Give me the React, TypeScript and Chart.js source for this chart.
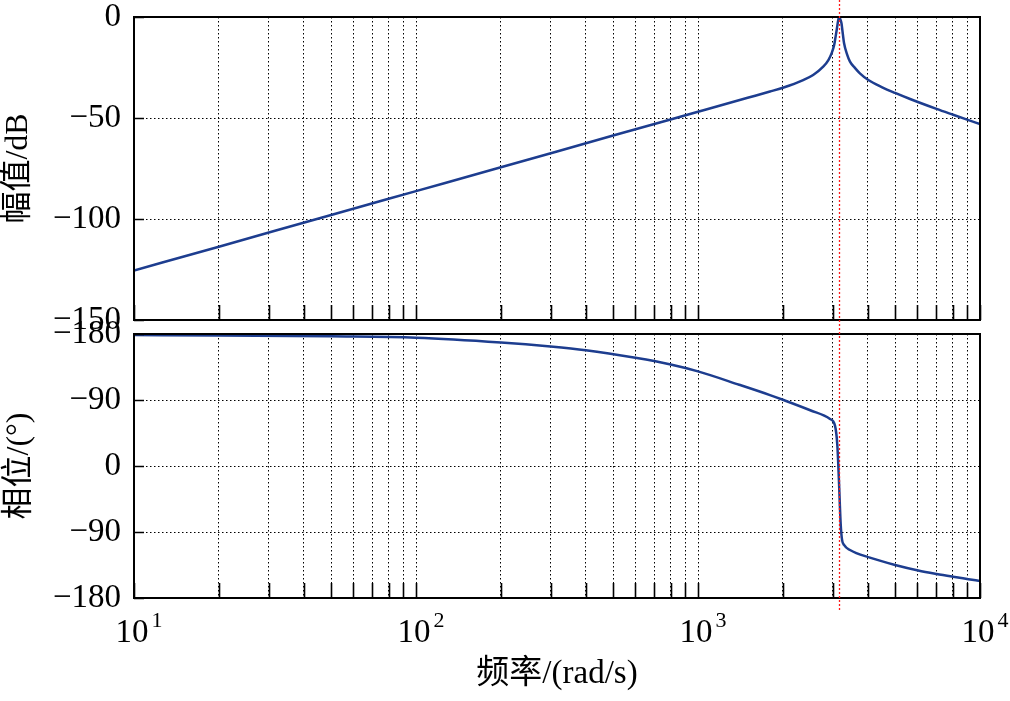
import React, { useEffect, useRef } from 'react';
import { Chart, registerables } from 'chart.js';

Chart.register(...registerables);

// ---- data ----
const magFreq = [10, 20, 50, 100, 200, 500, 1000, 1500, 1800, 2000, 2360, 2560, 2780, 2900, 2976, 3040, 3076, 3110, 3143, 3165, 3190, 3227, 3260, 3296, 3380, 3459, 3600, 3750, 4018, 4500, 5000, 5650, 7010, 8030, 9000, 10000];
const magDb = [-125.5, -113.7, -98.0, -86.2, -74.4, -58.7, -46.9, -40.0, -36.9, -35.0, -31.2, -28.7, -24.6, -21.3, -18.0, -13.9, -9.7, -5.6, -1.5, 0, -0.8, -3.1, -8.0, -13.0, -18.6, -22.1, -25.2, -27.9, -31.2, -34.8, -37.6, -40.6, -45.5, -48.4, -50.8, -53.0];

const phaseFreq = [10, 20, 50, 100, 200, 300, 400, 600, 800, 1000, 1400, 1800, 2000, 2500, 2940, 3060, 3120, 3160, 3205, 3240, 3300, 3460, 4070, 5000, 6040, 7010, 8030, 9100, 10000];
const phaseDeg = [178.6, 178.1, 176.8, 175.0, 168.5, 163.0, 157.9, 147.5, 138.4, 129.0, 110.8, 96.7, 90.3, 76.0, 64.0, 55.0, 28.0, -19.0, -78.0, -100.0, -108.0, -114.5, -125.0, -135.0, -142.5, -147.2, -151.0, -154.3, -156.8];

const resonanceFreq = [3165];

const xGridValues = [10, 20, 30, 40, 50, 60, 70, 80, 90, 100, 200, 300, 400, 500, 600, 700, 800, 900, 1000, 2000, 3000, 4000, 5000, 6000, 7000, 8000, 9000, 10000];
const xDecades = [10, 100, 1000, 10000];
const xExponents = ['1', '2', '3', '4'];

const magTicks = [0, -50, -100, -150];
const magTickLabels = ['0', '\u221250', '\u2212100', '\u2212150'];
const phaseTicks = [180, 90, 0, -90, -180];
const phaseTickLabels = ['\u2212180', '\u221290', '0', '\u221290', '\u2212180'];

const magTitle = '幅值/dB';
const phaseTitle = '相位/(°)';
const freqTitle = '频率/(rad/s)';

// ---- styles ----
const FONT = "'Liberation Serif', 'Noto Sans CJK SC', serif";
const LINE_COLOR = '#1d3d8f';
const RED = '#ff1a1a';
const GRID_DASH = [1.5, 2.5];

function makePlugin(yTicks: number[], redTop: (a: any) => number, redBottom: (a: any) => number, drawXLabels: boolean) {
  return {
    id: 'frameAndTicks',
    afterDraw(chart: any) {
      const { ctx, chartArea: a, scales } = chart;
      const xs = scales.x;
      const ys = scales.y;
      ctx.save();
      ctx.strokeStyle = '#000';
      ctx.lineWidth = 1.6;
      ctx.setLineDash([]);
      ctx.beginPath();
      for (const v of xGridValues) {
        const px = Math.round(xs.getPixelForValue(v)) + 0.5;
        ctx.moveTo(px, a.bottom);
        ctx.lineTo(px, a.bottom - 15);
      }
      for (const v of yTicks) {
        const py = Math.round(ys.getPixelForValue(v)) + 0.5;
        ctx.moveTo(a.left, py);
        ctx.lineTo(a.left + 10, py);
      }
      ctx.stroke();
      ctx.lineWidth = 2;
      ctx.strokeRect(a.left, a.top, a.right - a.left, a.bottom - a.top);

      // red dotted marker line at the resonance
      const rx = Math.round(xs.getPixelForValue(resonanceFreq[0])) + 0.5;
      ctx.strokeStyle = RED;
      ctx.lineWidth = 1.3;
      ctx.setLineDash([2, 2]);
      ctx.beginPath();
      ctx.moveTo(rx, redTop(a));
      ctx.lineTo(rx, redBottom(a));
      ctx.stroke();
      ctx.setLineDash([]);

      if (drawXLabels) {
        ctx.fillStyle = '#000';
        ctx.textBaseline = 'alphabetic';
        xDecades.forEach((v, i) => {
          const px = xs.getPixelForValue(v);
          ctx.font = `33px ${FONT}`;
          const w = ctx.measureText('10').width;
          const left = px - w / 2 - 2;
          ctx.textAlign = 'left';
          ctx.fillText('10', left, a.bottom + 44);
          ctx.font = `22px ${FONT}`;
          ctx.fillText(xExponents[i], left + w + 3, a.bottom + 29);
        });
      }
      ctx.restore();
    },
  };
}

function tickSetter(values: number[]) {
  return (scale: any) => {
    scale.ticks = values.map((v) => ({ value: v }));
  };
}

const MagChart: React.FC = () => {
  const ref = useRef<HTMLCanvasElement | null>(null);
  useEffect(() => {
    if (!ref.current) return;
    const chart = new Chart(ref.current, {
      type: 'line',
      data: {
        datasets: [
          {
            data: magFreq.map((f, i) => ({ x: f, y: magDb[i] })),
            borderColor: LINE_COLOR,
            borderWidth: 2.5,
            pointRadius: 0,
            cubicInterpolationMode: 'monotone',
            fill: false,
          },
        ],
      },
      options: {
        animation: false,
        responsive: false,
        maintainAspectRatio: false,
        devicePixelRatio: 1,
        layout: { padding: { left: 0, right: 30, top: 17, bottom: 25 } },
        plugins: { legend: { display: false }, tooltip: { enabled: false } },
        scales: {
          x: {
            type: 'logarithmic',
            min: 10,
            max: 10000,
            afterBuildTicks: tickSetter(xGridValues),
            ticks: { display: false },
            grid: { color: '#000', lineWidth: 1, drawTicks: false },
            border: { display: false, dash: GRID_DASH },
            afterFit: (s: any) => {
              s.height = 0;
              s.paddingLeft = 0;
              s.paddingRight = 0;
            },
          },
          y: {
            min: -150,
            max: 0,
            afterBuildTicks: tickSetter(magTicks),
            ticks: {
              color: '#000',
              padding: 13,
              font: { family: FONT, size: 33, lineHeight: 1 },
              callback: (v: any) => magTickLabels[magTicks.indexOf(Number(v))] ?? '',
            },
            grid: { color: '#000', lineWidth: 1, drawTicks: false },
            border: { display: false, dash: GRID_DASH },
            title: {
              display: true,
              text: magTitle,
              color: '#000',
              font: { family: FONT, size: 32, lineHeight: 1 },
              padding: { top: 3, bottom: 0 },
            },
            afterFit: (s: any) => {
              s.width = 134;
              s.paddingTop = 0;
              s.paddingBottom = 0;
            },
          },
        },
      },
      plugins: [makePlugin(magTicks, () => 0, (a: any) => a.bottom + 8, false)],
    } as any);
    return () => chart.destroy();
  }, []);
  return <canvas ref={ref} width={1010} height={345} style={{ position: 'absolute', left: 0, top: 0, width: 1010, height: 345 }} />;
};

const PhaseChart: React.FC = () => {
  const ref = useRef<HTMLCanvasElement | null>(null);
  useEffect(() => {
    if (!ref.current) return;
    const chart = new Chart(ref.current, {
      type: 'line',
      data: {
        datasets: [
          {
            data: phaseFreq.map((f, i) => ({ x: f, y: phaseDeg[i] })),
            borderColor: LINE_COLOR,
            borderWidth: 2.5,
            pointRadius: 0,
            cubicInterpolationMode: 'monotone',
            fill: false,
          },
        ],
      },
      options: {
        animation: false,
        responsive: false,
        maintainAspectRatio: false,
        devicePixelRatio: 1,
        layout: { padding: { left: 0, right: 30, top: 34, bottom: 0 } },
        plugins: { legend: { display: false }, tooltip: { enabled: false } },
        scales: {
          x: {
            type: 'logarithmic',
            min: 10,
            max: 10000,
            afterBuildTicks: tickSetter(xGridValues),
            ticks: { display: false },
            grid: { color: '#000', lineWidth: 1, drawTicks: false },
            border: { display: false, dash: GRID_DASH },
            title: {
              display: true,
              text: freqTitle,
              color: '#000',
              font: { family: FONT, size: 33, lineHeight: 1 },
              padding: { top: 0, bottom: 10 },
            },
            afterFit: (s: any) => {
              s.height = 103;
              s.paddingLeft = 0;
              s.paddingRight = 0;
            },
          },
          y: {
            min: -180,
            max: 180,
            afterBuildTicks: tickSetter(phaseTicks),
            ticks: {
              color: '#000',
              padding: 13,
              font: { family: FONT, size: 33, lineHeight: 1 },
              callback: (v: any) => phaseTickLabels[phaseTicks.indexOf(Number(v))] ?? '',
            },
            grid: { color: '#000', lineWidth: 1, drawTicks: false },
            border: { display: false, dash: GRID_DASH },
            title: {
              display: true,
              text: phaseTitle,
              color: '#000',
              font: { family: FONT, size: 32, lineHeight: 1 },
              padding: { top: 4, bottom: 0 },
            },
            afterFit: (s: any) => {
              s.width = 134;
              s.paddingTop = 0;
              s.paddingBottom = 0;
            },
          },
        },
      },
      plugins: [makePlugin(phaseTicks, (a: any) => a.top - 6, (a: any) => a.bottom + 12, true)],
    } as any);
    return () => chart.destroy();
  }, []);
  return <canvas ref={ref} width={1010} height={401} style={{ position: 'absolute', left: 0, top: 300, width: 1010, height: 401 }} />;
};

export default function App() {
  return (
    <div style={{ position: 'fixed', left: 0, top: 0, width: 1010, height: 701, background: '#fff', overflow: 'hidden' }}>
      <MagChart />
      <PhaseChart />
    </div>
  );
}
